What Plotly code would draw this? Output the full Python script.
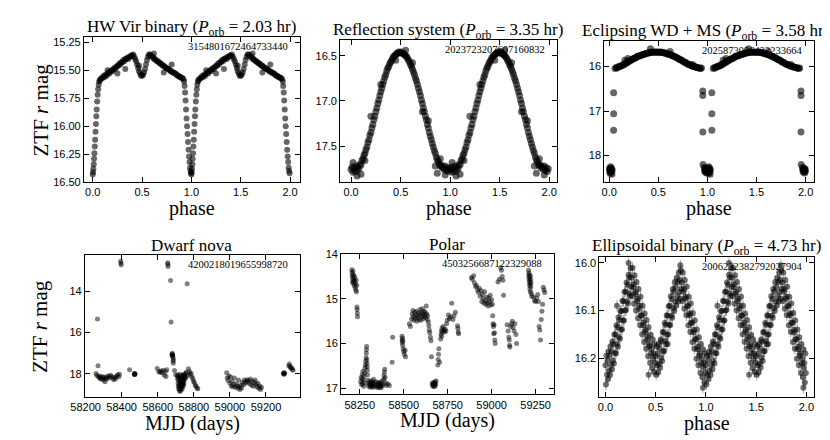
import plotly.graph_objects as go

# ---------------- data ----------------
TITLES = [
    "HW Vir binary (<i>P</i><sub>orb</sub> = 2.03 hr)",
    "Reflection system (<i>P</i><sub>orb</sub> = 3.35 hr)",
    "Eclipsing WD + MS (<i>P</i><sub>orb</sub> = 3.58 hr)",
    "Dwarf nova",
    "Polar",
    "Ellipsoidal binary (<i>P</i><sub>orb</sub> = 4.73 hr)",
]
GAIA_IDS = ["3154801672464733440", "2023723207607160832", "2025873096433233664",
            "4200218019655998720", "4503256687122329088", "2006232382792027904"]

# HW Vir binary, one orbital cycle (phase, ZTF r mag)
HW_PH = [0.000, 0.003, 0.006, 0.010, 0.013, 0.017, 0.020, 0.024, 0.028, 0.032, 0.036, 0.040,
         0.045, 0.050, 0.055, 0.060, 0.066, 0.072, 0.078,
         0.09, 0.10, 0.11, 0.12, 0.13, 0.14, 0.15, 0.16, 0.17, 0.18, 0.19, 0.20, 0.21, 0.22,
         0.23, 0.24, 0.25, 0.26, 0.27, 0.28, 0.29, 0.30, 0.31, 0.32, 0.33, 0.34, 0.35, 0.36,
         0.37, 0.38, 0.39, 0.40, 0.41, 0.42, 0.43, 0.44, 0.45, 0.46, 0.47, 0.48, 0.49, 0.50,
         0.51, 0.52, 0.53, 0.54, 0.55, 0.56, 0.57, 0.58, 0.59, 0.60, 0.61, 0.62, 0.63, 0.64,
         0.65, 0.66, 0.67, 0.68, 0.69, 0.70, 0.71, 0.72, 0.73, 0.74, 0.75, 0.76, 0.77, 0.78,
         0.79, 0.80, 0.81, 0.82, 0.83, 0.84, 0.85, 0.86, 0.87, 0.88, 0.89, 0.90, 0.91, 0.92,
         0.926, 0.931, 0.936, 0.941, 0.946, 0.951, 0.956, 0.961, 0.966, 0.971, 0.976, 0.981,
         0.986, 0.991, 0.996,
         0.33, 0.80, 0.72, 0.25, 0.15, 0.47, 0.62]
HW_MAG = [16.43, 16.41, 16.38, 16.34, 16.29, 16.24, 16.18, 16.12, 16.05, 15.98, 15.91, 15.85,
          15.78, 15.72, 15.67, 15.63, 15.60, 15.59, 15.58,
          15.57, 15.57, 15.55, 15.56, 15.54, 15.55, 15.53, 15.52, 15.53, 15.51, 15.50, 15.51,
          15.49, 15.48, 15.49, 15.47, 15.46, 15.46, 15.44, 15.45, 15.43, 15.43, 15.41, 15.42,
          15.40, 15.40, 15.39, 15.40, 15.38, 15.38, 15.37, 15.37, 15.36, 15.38, 15.40, 15.42,
          15.45, 15.48, 15.51, 15.53, 15.55, 15.55, 15.54, 15.52, 15.49, 15.45, 15.41, 15.38,
          15.36, 15.36, 15.37, 15.38, 15.38, 15.40, 15.40, 15.41, 15.42, 15.42, 15.43, 15.44,
          15.44, 15.45, 15.46, 15.46, 15.47, 15.48, 15.48, 15.49, 15.49, 15.50, 15.51, 15.51,
          15.52, 15.52, 15.53, 15.53, 15.54, 15.55, 15.55, 15.56, 15.56, 15.57, 15.57, 15.58,
          15.60, 15.64, 15.70, 15.77, 15.85, 15.93, 16.00, 16.07, 16.14, 16.21, 16.27, 16.32,
          16.37, 16.40, 16.42,
          15.49, 15.45, 15.52, 15.53, 15.50, 15.46, 15.35]

# Reflection system
RE_PH = [0.00, 0.01, 0.02, 0.03, 0.04, 0.05, 0.06, 0.07, 0.08, 0.09, 0.10, 0.11, 0.12, 0.13,
         0.14, 0.15, 0.16, 0.17, 0.18, 0.19, 0.20, 0.21, 0.22, 0.23, 0.24, 0.25, 0.26, 0.27,
         0.28, 0.29, 0.30, 0.31, 0.32, 0.33, 0.34, 0.35, 0.36, 0.37, 0.38, 0.39, 0.40, 0.41,
         0.42, 0.43, 0.44, 0.45, 0.46, 0.47, 0.48, 0.49, 0.50, 0.51, 0.52, 0.53, 0.54, 0.55,
         0.56, 0.57, 0.58, 0.59, 0.60, 0.61, 0.62, 0.63, 0.64, 0.65, 0.66, 0.67, 0.68, 0.69,
         0.70, 0.71, 0.72, 0.73, 0.74, 0.75, 0.76, 0.77, 0.78, 0.79, 0.80, 0.81, 0.82, 0.83,
         0.84, 0.85, 0.86, 0.87, 0.88, 0.89, 0.90, 0.91, 0.92, 0.93, 0.94, 0.95, 0.96, 0.97,
         0.98, 0.99,
         0.20, 0.06, 0.10, 0.14, 0.02, 0.87, 0.90, 0.95, 0.85, 0.30, 0.62, 0.45, 0.55, 0.72, 0.78]
RE_MAG = [17.76, 17.73, 17.79, 17.74, 17.78, 17.72, 17.77, 17.73, 17.75, 17.70, 17.71, 17.66,
          17.64, 17.60, 17.58, 17.54, 17.51, 17.46, 17.43, 17.38, 17.35, 17.30, 17.26, 17.21,
          17.17, 17.12, 17.08, 17.03, 16.99, 16.94, 16.90, 16.86, 16.82, 16.78, 16.74, 16.71,
          16.67, 16.64, 16.62, 16.59, 16.57, 16.55, 16.53, 16.51, 16.50, 16.49, 16.48, 16.47,
          16.46, 16.47, 16.46, 16.47, 16.47, 16.48, 16.49, 16.50, 16.51, 16.53, 16.55, 16.57,
          16.60, 16.62, 16.65, 16.68, 16.71, 16.75, 16.78, 16.82, 16.86, 16.90, 16.94, 16.99,
          17.03, 17.08, 17.12, 17.17, 17.21, 17.26, 17.30, 17.35, 17.39, 17.43, 17.47, 17.51,
          17.55, 17.58, 17.62, 17.65, 17.67, 17.70, 17.72, 17.71, 17.74, 17.73, 17.76, 17.72,
          17.77, 17.74, 17.78, 17.75,
          17.17, 17.83, 17.81, 17.66, 17.68, 17.80, 17.64, 17.82, 17.72, 16.82, 16.58, 16.55,
          16.44, 17.12, 17.22]

# Eclipsing WD + MS
EC_PH = [0.06, 0.07, 0.08, 0.09, 0.10, 0.11, 0.12, 0.13, 0.14, 0.15, 0.16, 0.17, 0.18, 0.19,
         0.20, 0.21, 0.22, 0.23, 0.24, 0.25, 0.26, 0.27, 0.28, 0.29, 0.30, 0.31, 0.32, 0.33,
         0.34, 0.35, 0.36, 0.37, 0.38, 0.39, 0.40, 0.41, 0.42, 0.43, 0.44, 0.45, 0.46, 0.47,
         0.48, 0.49, 0.50, 0.51, 0.52, 0.53, 0.54, 0.55, 0.56, 0.57, 0.58, 0.59, 0.60, 0.61,
         0.62, 0.63, 0.64, 0.65, 0.66, 0.67, 0.68, 0.69, 0.70, 0.71, 0.72, 0.73, 0.74, 0.75,
         0.76, 0.77, 0.78, 0.79, 0.80, 0.81, 0.82, 0.83, 0.84, 0.85, 0.86, 0.87, 0.88, 0.89,
         0.90, 0.91, 0.92, 0.93, 0.94,
         0.42, 0.19, 0.16, 0.62, 0.85,
         0.045, 0.045, 0.045, 0.953, 0.953, 0.953, 0.955,
         0.002, 0.005, 0.008, 0.010, 0.012, 0.015, 0.018, 0.020, 0.022, 0.025, 0.028, 0.030,
         0.968, 0.972, 0.975, 0.978, 0.980, 0.983, 0.985, 0.988, 0.990, 0.993, 0.996, 0.998]
EC_MAG = [16.04, 16.02, 16.03, 16.01, 16.00, 16.00, 15.98, 15.98, 15.96, 15.95, 15.94, 15.92,
          15.91, 15.90, 15.88, 15.87, 15.86, 15.84, 15.83, 15.82, 15.81, 15.80, 15.78, 15.77,
          15.76, 15.76, 15.75, 15.74, 15.73, 15.72, 15.72, 15.71, 15.70, 15.70, 15.69, 15.69,
          15.68, 15.68, 15.68, 15.67, 15.68, 15.67, 15.68, 15.67, 15.68, 15.68, 15.67, 15.68,
          15.68, 15.69, 15.69, 15.70, 15.70, 15.71, 15.72, 15.72, 15.73, 15.74, 15.75, 15.76,
          15.77, 15.78, 15.79, 15.80, 15.81, 15.83, 15.84, 15.85, 15.86, 15.88, 15.89, 15.90,
          15.91, 15.93, 15.94, 15.95, 15.96, 15.97, 15.98, 15.99, 16.00, 16.00, 16.01, 16.02,
          16.02, 16.03, 16.03, 16.04, 16.03,
          15.60, 15.82, 15.86, 15.66, 15.95,
          16.59, 17.06, 17.43, 16.55, 16.65, 17.47, 18.20,
          18.30, 18.36, 18.28, 18.40, 18.33, 18.25, 18.38, 18.31, 18.35, 18.29, 18.42, 18.33,
          18.27, 18.34, 18.30, 18.37, 18.32, 18.28, 18.35, 18.31, 18.39, 18.33, 18.30, 18.36]

# Dwarf nova light curve
DN_MJD = [58258, 58262, 58266, 58269, 58272, 58276, 58280, 58284, 58288, 58292, 58296, 58300,
          58304, 58308, 58312, 58316, 58320, 58326, 58332, 58338, 58344, 58350, 58356, 58362,
          58366, 58372, 58378, 58384, 58388, 58395, 58396, 58397, 58444, 58470, 58471, 58472,
          58473, 58474, 58597, 58606, 58612, 58618, 58624, 58630, 58636, 58642, 58646, 58650,
          58655, 58656, 58657, 58671, 58674, 58679, 58680, 58681, 58682, 58683, 58684, 58685,
          58686, 58687, 58693, 58700,
          58708, 58710, 58712, 58713, 58714, 58715, 58716, 58717, 58718, 58719, 58720, 58721,
          58722, 58723, 58724, 58725, 58726, 58727, 58728, 58729, 58730, 58731, 58732, 58733,
          58734, 58735, 58736, 58737, 58738, 58739, 58740, 58741, 58742, 58743, 58744, 58745,
          58746, 58747, 58748, 58750, 58752, 58754, 58756, 58758, 58763,
          58766, 58770, 58776, 58780, 58785, 58790, 58794, 58798, 58803, 58808, 58812, 58818,
          58822,
          58982, 58985, 58990, 58995, 59000, 59004, 59008, 59012, 59016, 59020, 59025, 59030,
          59035, 59040, 59044, 59048, 59052, 59056, 59060, 59065, 59070, 59075, 59080, 59085,
          59090, 59095, 59100, 59105, 59110, 59115, 59120, 59125, 59130, 59135, 59140, 59145,
          59150, 59155, 59160, 59165, 59170, 59175,
          59296, 59298, 59300, 59302, 59304, 59326, 59330, 59334, 59338, 59342, 59346, 59350]
DN_MAG = [17.98, 18.08, 15.34, 17.60, 18.15, 18.10, 18.22, 18.18, 18.26, 18.12, 18.20, 18.30,
          18.16, 18.38, 18.22, 18.14, 18.24, 18.10, 18.18, 18.06, 18.12, 18.20, 18.28, 18.16,
          18.24, 18.10, 18.04, 18.14, 18.02, 12.55, 12.64, 12.72, 17.80, 18.00, 18.04, 17.97,
          18.02, 18.00, 17.74, 17.90, 17.92, 17.86, 17.94, 17.82, 18.05, 17.88, 18.12, 17.80,
          12.62, 12.70, 12.80, 13.48, 15.49, 17.05, 17.10, 17.00, 17.14, 17.08, 17.20, 17.38,
          17.48, 17.30, 17.84, 18.04,
          18.10, 18.25, 18.05, 18.45, 18.60, 18.20, 18.72, 18.35, 18.12, 18.55, 18.80, 18.30,
          18.65, 18.02, 18.85, 18.48, 18.70, 18.18, 18.58, 18.40, 18.78, 18.25, 18.62, 18.08,
          18.50, 18.35, 18.72, 18.15, 18.44, 18.60, 18.28, 18.05, 18.55, 18.38, 18.20, 18.48,
          18.10, 18.30, 18.02, 18.22, 18.12, 17.98, 18.18, 17.92, 13.64,
          18.08, 17.75, 17.90, 18.02, 17.97, 18.14, 18.22, 18.35, 18.42, 18.55, 18.60, 18.68,
          18.72,
          17.95, 18.20, 18.32, 18.10, 18.45, 18.15, 18.58, 18.35, 18.62, 18.50, 18.20, 18.65,
          18.48, 18.58, 18.70, 18.30, 18.62, 18.75, 18.55, 18.68, 18.40, 18.52, 18.30, 18.45,
          18.35, 18.28, 18.40, 18.32, 18.48, 18.25, 18.55, 18.35, 18.60, 18.42, 18.30, 18.50,
          18.62, 18.45, 18.70, 18.58, 18.75, 18.65,
          17.97, 18.02, 17.94, 18.00, 17.96, 17.60, 17.52, 17.65, 17.72, 17.70, 17.78, 17.82]

# Polar light curve
PO_MJD = [58205, 58206, 58207, 58208, 58210, 58211, 58212, 58214, 58215, 58217, 58218, 58220,
          58222, 58224, 58226, 58228, 58229, 58231, 58233, 58234, 58235, 58236, 58237,
          58255, 58258, 58260, 58262, 58264, 58266, 58268, 58270, 58272, 58274, 58276, 58278,
          58280, 58282, 58284, 58286, 58287, 58288, 58289, 58290, 58291, 58292, 58293, 58294,
          58296, 58298, 58300, 58304, 58308, 58310, 58312, 58314, 58316, 58318, 58320, 58322,
          58324, 58326, 58328, 58332, 58336, 58340, 58344, 58348, 58352, 58355, 58358, 58360,
          58362, 58365, 58368, 58370, 58372, 58375, 58378, 58382, 58386, 58388, 58390, 58392,
          58394, 58396, 58400, 58410, 58418,
          58437, 58434, 58490, 58491, 58492, 58493, 58494, 58495, 58497, 58500, 58504, 58508,
          58510, 58532, 58538, 58545, 58548, 58552, 58555, 58558, 58562, 58565, 58568, 58572,
          58575, 58578, 58582, 58585, 58588, 58592, 58595, 58598, 58600, 58604, 58606, 58610,
          58612, 58615, 58618, 58622, 58625, 58628, 58630, 58634, 58636, 58640, 58643, 58645,
          58648, 58652, 58655, 58658, 58662, 58664, 58666, 58668, 58670, 58672, 58674, 58676,
          58678, 58680, 58682, 58684, 58694, 58696, 58698, 58700, 58704, 58710, 58712, 58714,
          58716, 58718, 58720, 58724, 58728, 58732, 58736, 58740, 58744, 58748, 58754, 58760,
          58766, 58773, 58780, 58786, 58794, 58806, 58808, 58810, 58812,
          58885, 58890, 58898, 58902, 58908, 58914, 58920, 58925, 58930, 58935, 58940, 58944,
          58948, 58952, 58956, 58960, 58964, 58968, 58972, 58976, 58980, 58984, 58988, 58992,
          58996, 59000, 59004, 59006, 59008, 59010, 59012, 59014, 59016, 59018, 59020, 59036,
          59044, 59052, 59056, 59060, 59064, 59068, 59088, 59094, 59098, 59100, 59102, 59104,
          59108, 59114, 59118, 59122, 59128, 59132, 59138, 59142,
          59210, 59211, 59212, 59213, 59214, 59215, 59216, 59217, 59218, 59219, 59220, 59221,
          59222, 59223, 59224, 59226, 59228, 59238, 59244, 59250, 59256, 59262, 59266, 59270,
          59274, 59278, 59282, 59286, 59290, 59294, 59298, 59302]
PO_MAG = [14.35, 14.42, 14.50, 14.62, 14.55, 14.38, 14.46, 14.65, 14.58, 14.48, 14.70, 14.60,
          14.52, 14.75, 14.66, 14.80, 14.58, 14.84, 14.70, 15.18, 15.24, 15.32, 15.40,
          16.86, 16.76, 16.92, 16.80, 16.70, 16.90, 16.62, 16.82, 16.96, 16.74, 16.88, 16.66,
          16.55, 16.48, 16.40, 16.32, 16.22, 16.14, 16.07, 16.36, 16.45, 16.52, 16.60, 16.70,
          16.82, 16.90, 16.96, 16.86, 16.92, 16.98, 16.88, 16.94, 16.84, 16.96, 16.90, 16.86,
          16.98, 16.92, 16.80, 16.95, 16.88, 16.97, 16.86, 16.93, 16.99, 16.88, 16.95, 16.91,
          16.98, 16.87, 16.94, 16.99, 16.90, 16.96, 16.84, 16.92, 16.80, 16.72, 16.64, 16.58,
          16.76, 16.88, 16.94, 16.90, 16.94,
          15.86, 16.42, 15.84, 15.92, 15.98, 15.88, 16.04, 15.95, 16.12, 16.18, 16.24, 16.15,
          16.30, 15.56, 15.62, 15.45, 15.34, 15.26, 15.40, 15.48, 15.30, 15.38, 15.44, 15.28,
          15.50, 15.36, 15.42, 15.32, 15.46, 15.24, 15.36, 15.48, 15.30, 15.40, 15.22, 15.34,
          15.44, 15.28, 15.38, 15.30, 15.42, 15.16, 15.34, 15.46, 15.38, 15.52, 15.60, 15.70,
          15.76, 15.86, 15.94, 16.30, 16.92, 16.88, 16.96, 16.90, 16.94, 16.88, 16.97, 16.92,
          16.86, 16.94, 16.90, 16.84, 16.48, 16.36, 16.24, 16.12, 16.42, 15.90, 15.80, 15.72,
          15.84, 15.66, 15.74, 15.62, 15.70, 15.74, 15.68, 15.72, 15.56, 15.48, 15.36, 15.44,
          15.40, 15.10, 15.46, 15.38, 15.30, 15.60, 15.66, 15.74, 15.78,
          14.52, 14.56, 14.48, 14.64, 14.72, 14.70, 14.80, 14.86, 14.76, 14.94, 14.82, 15.06,
          14.90, 15.00, 15.10, 14.84, 15.04, 15.12, 14.96, 15.08, 15.16, 14.98, 15.06, 14.92,
          15.14, 15.02, 15.12, 15.38, 15.56, 15.62, 15.78, 15.58, 15.76, 15.92, 16.00, 14.62,
          14.56, 14.30, 14.36, 14.50, 14.58, 14.92, 15.58, 15.72, 15.86, 15.92, 16.04, 16.08,
          15.62, 15.56, 15.50, 15.64, 15.72, 15.56, 15.80, 16.00,
          14.36, 14.46, 14.54, 14.42, 14.62, 14.50, 14.70, 14.58, 14.78, 14.66, 14.84, 14.48,
          14.56, 14.72, 14.64, 14.88, 14.94, 14.96, 15.04, 15.06, 14.98, 14.90, 15.06, 15.62,
          15.70, 15.92, 15.46, 15.28, 15.12, 14.74, 14.80, 14.86]

# Ellipsoidal binary, one cycle
EL_PH = [0.000, 0.005, 0.010, 0.015, 0.020, 0.025, 0.030, 0.035, 0.040, 0.045, 0.050, 0.055,
         0.060, 0.065, 0.070, 0.075, 0.080, 0.085, 0.090, 0.095, 0.100, 0.105, 0.110, 0.115,
         0.120, 0.125, 0.130, 0.135, 0.140, 0.145, 0.150, 0.155, 0.160, 0.165, 0.170, 0.175,
         0.180, 0.185, 0.190, 0.195, 0.200, 0.205, 0.210, 0.215, 0.220, 0.225, 0.230, 0.235,
         0.240, 0.245, 0.250, 0.255, 0.260, 0.265, 0.270, 0.275, 0.280, 0.285, 0.290, 0.295,
         0.300, 0.305, 0.310, 0.315, 0.320, 0.325, 0.330, 0.335, 0.340, 0.345, 0.350, 0.355,
         0.360, 0.365, 0.370, 0.375, 0.380, 0.385, 0.390, 0.395, 0.400, 0.405, 0.410, 0.415,
         0.420, 0.425, 0.430, 0.435, 0.440, 0.445, 0.450, 0.455, 0.460, 0.465, 0.470, 0.475,
         0.480, 0.485, 0.490, 0.495, 0.500, 0.505, 0.510, 0.515, 0.520, 0.525, 0.530, 0.535,
         0.540, 0.545, 0.550, 0.555, 0.560, 0.565, 0.570, 0.575, 0.580, 0.585, 0.590, 0.595,
         0.600, 0.605, 0.610, 0.615, 0.620, 0.625, 0.630, 0.635, 0.640, 0.645, 0.650, 0.655,
         0.660, 0.665, 0.670, 0.675, 0.680, 0.685, 0.690, 0.695, 0.700, 0.705, 0.710, 0.715,
         0.720, 0.725, 0.730, 0.735, 0.740, 0.745, 0.750, 0.755, 0.760, 0.765, 0.770, 0.775,
         0.780, 0.785, 0.790, 0.795, 0.800, 0.805, 0.810, 0.815, 0.820, 0.825, 0.830, 0.835,
         0.840, 0.845, 0.850, 0.855, 0.860, 0.865, 0.870, 0.875, 0.880, 0.885, 0.890, 0.895,
         0.900, 0.905, 0.910, 0.915, 0.920, 0.925, 0.930, 0.935, 0.940, 0.945, 0.950, 0.955,
         0.960, 0.965, 0.970, 0.975, 0.980, 0.985, 0.990, 0.995,
         0.115, 0.430, 0.620, 0.970, 0.230, 0.745]
EL_MAG = [16.215, 16.255, 16.195, 16.235, 16.205, 16.244, 16.186, 16.226,
          16.195, 16.236, 16.175, 16.214, 16.186, 16.224, 16.165, 16.205,
          16.170, 16.211, 16.150, 16.189, 16.151, 16.190, 16.131, 16.171,
          16.135, 16.176, 16.114, 16.156, 16.120, 16.159, 16.101, 16.140,
          16.101, 16.140, 16.080, 16.121, 16.080, 16.121, 16.061, 16.100,
          16.060, 16.099, 16.041, 16.081, 16.046, 16.085, 16.025, 16.064,
          16.030, 16.069, 16.011, 16.050, 16.031, 16.070, 16.010, 16.051,
          16.045, 16.086, 16.026, 16.065, 16.061, 16.100, 16.040, 16.080,
          16.075, 16.116, 16.055, 16.096, 16.090, 16.131, 16.071, 16.110,
          16.111, 16.150, 16.090, 16.131, 16.125, 16.166, 16.106, 16.145,
          16.141, 16.180, 16.120, 16.161, 16.155, 16.196, 16.135, 16.175,
          16.171, 16.210, 16.151, 16.190, 16.180, 16.221, 16.160, 16.201,
          16.190, 16.229, 16.171, 16.210, 16.196, 16.235, 16.175, 16.215,
          16.191, 16.230, 16.170, 16.211, 16.180, 16.220, 16.161, 16.199,
          16.165, 16.206, 16.145, 16.186, 16.146, 16.185, 16.126, 16.164,
          16.130, 16.171, 16.110, 16.151, 16.111, 16.150, 16.091, 16.130,
          16.090, 16.131, 16.070, 16.111, 16.076, 16.115, 16.055, 16.095,
          16.060, 16.101, 16.040, 16.081, 16.051, 16.090, 16.031, 16.070,
          16.040, 16.081, 16.020, 16.061, 16.036, 16.075, 16.016, 16.055,
          16.041, 16.080, 16.020, 16.060, 16.055, 16.096, 16.036, 16.075,
          16.071, 16.110, 16.050, 16.091, 16.090, 16.131, 16.071, 16.110,
          16.106, 16.145, 16.085, 16.126, 16.125, 16.166, 16.105, 16.146,
          16.141, 16.180, 16.121, 16.160, 16.160, 16.201, 16.140, 16.181,
          16.176, 16.215, 16.156, 16.195, 16.190, 16.231, 16.170, 16.211,
          16.201, 16.240, 16.181, 16.220, 16.210, 16.251, 16.190, 16.231,
          16.090, 16.235, 16.170, 16.262, 16.000, 16.005]
EL_ERR = 0.012

# ---------------- layout ----------------
W, H = 830, 440
# frame of each panel in pixels: left, right, top, bottom
BOXES = [(62, 282, 24, 173), (323, 544, 27, 173), (592, 806, 28, 173),
         (63, 282, 248, 394), (324, 541, 247, 391), (587, 806, 250, 394)]
TITLE_X = [172, 433, 695, 172, 432, 696]
XRANGES = [[-0.09, 2.10], [-0.11, 2.08], [-0.05, 2.09],
           [58196, 59388], [58144, 59356], [-0.06, 2.08]]
YRANGES = [[16.5, 15.207], [17.9, 16.33], [18.6, 15.43],
           [19.13, 12.26], [17.14, 14.0], [16.282, 15.988]]
PHASE_TICKS = [0.0, 0.5, 1.0, 1.5, 2.0]
XTICKS = [PHASE_TICKS, PHASE_TICKS, PHASE_TICKS,
          [58200, 58400, 58600, 58800, 59000, 59200],
          [58250, 58500, 58750, 59000, 59250], PHASE_TICKS]
XFMT = ["{:.1f}", "{:.1f}", "{:.1f}", "{:.0f}", "{:.0f}", "{:.1f}"]
YTICKS = [[15.25, 15.5, 15.75, 16.0, 16.25, 16.5], [16.5, 17.0, 17.5], [16, 17, 18],
          [14, 16, 18], [14, 15, 16, 17], [16.0, 16.1, 16.2]]
YFMT = ["{:.2f}", "{:.1f}", "{:.0f}", "{:.0f}", "{:.0f}", "{:.1f}"]
XLABELS = ["phase", "phase", "phase", "MJD (days)", "MJD (days)", "phase"]

SERIF = "Liberation Serif, Times New Roman, serif"
SANS = "Liberation Sans, Arial, sans-serif"


def fold(ph, mag):
    # folded light curves are shown over two cycles
    return ph + [p + 1 for p in ph], mag + mag


series = [fold(HW_PH, HW_MAG), fold(RE_PH, RE_MAG), fold(EC_PH, EC_MAG),
          (DN_MJD, DN_MAG), (PO_MJD, PO_MAG), fold(EL_PH, EL_MAG)]
msize = [6, 7, 7, 5, 5, 6]
mopac = [0.6, 0.6, 0.6, 0.5, 0.5, 0.55]

fig = go.Figure()
layout = dict(width=W, height=H, margin=dict(l=0, r=0, t=0, b=0),
              paper_bgcolor="white", plot_bgcolor="white", showlegend=False)
annotations = []

for i, (box, (xs, ys)) in enumerate(zip(BOXES, series)):
    n = "" if i == 0 else str(i + 1)
    left, right, top, bottom = box
    common = dict(ticks="inside", ticklen=5, tickwidth=1, tickcolor="black",
                  showline=True, linecolor="black", linewidth=1, mirror="ticks",
                  showgrid=False, zeroline=False,
                  tickfont=dict(family=SANS, size=11, color="black"))
    layout["xaxis" + n] = dict(domain=[left / W, right / W], range=XRANGES[i],
                               anchor="y" + n, tickvals=XTICKS[i],
                               ticktext=[XFMT[i].format(v) for v in XTICKS[i]], **common)
    layout["yaxis" + n] = dict(domain=[1 - bottom / H, 1 - top / H], range=YRANGES[i],
                               anchor="x" + n, tickvals=YTICKS[i],
                               ticktext=[YFMT[i].format(v) for v in YTICKS[i]], **common)

    trace = dict(x=xs, y=ys, mode="markers", xaxis="x" + n, yaxis="y" + n,
                 marker=dict(color="black", size=msize[i], opacity=mopac[i],
                             line=dict(width=0)),
                 hoverinfo="skip")
    if i == 5:
        trace["error_y"] = dict(type="constant", value=EL_ERR, color="rgba(0,0,0,0.35)",
                                thickness=1, width=0)
    fig.add_trace(go.Scatter(**trace))

    cx = (left + right) / 2 / W
    # panel title
    annotations.append(dict(text=TITLES[i], x=TITLE_X[i] / W, y=1 - (top - 10) / H,
                            xref="paper", yref="paper", xanchor="center", yanchor="middle",
                            showarrow=False, font=dict(family=SERIF, size=17, color="black")))
    # source id
    annotations.append(dict(text=GAIA_IDS[i], x=(right - 10) / W, y=1 - (top + 2) / H,
                            xref="paper", yref="paper", xanchor="right", yanchor="top",
                            showarrow=False, font=dict(family=SERIF, size=10.5, color="black")))
    # x label
    annotations.append(dict(text=XLABELS[i], x=cx, y=1 - (bottom + 27) / H, xref="paper",
                            yref="paper", xanchor="center", yanchor="middle",
                            showarrow=False, font=dict(family=SERIF, size=20, color="black")))

for box in (BOXES[0], BOXES[3]):
    annotations.append(dict(text="ZTF <i>r</i> mag", x=18 / W,
                            y=1 - (box[2] + box[3]) / 2 / H, xref="paper", yref="paper",
                            xanchor="center", yanchor="middle", textangle=-90,
                            showarrow=False, font=dict(family=SERIF, size=21, color="black")))

layout["annotations"] = annotations
fig.update_layout(**layout)
fig.write_html("out.html")
